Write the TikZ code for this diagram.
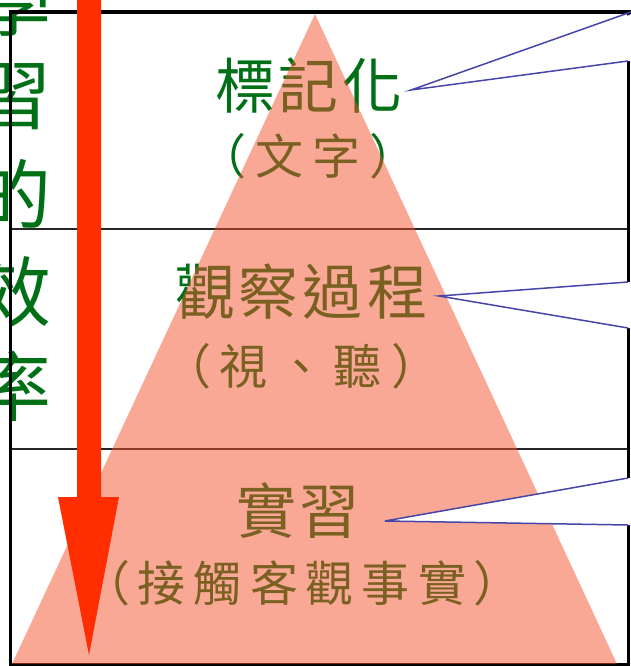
\documentclass[tikz,border=0pt]{standalone}
\usepackage{fontspec}
\newfontfamily\cjk{Noto Sans CJK TC}
\definecolor{lblgreen}{RGB}{0,112,22}
\definecolor{trired}{RGB}{245,81,45}
\definecolor{cblue}{RGB}{70,70,170}
\definecolor{arrowred}{RGB}{255,45,0}
\newcommand\tg{\kern4pt}
\newcommand\sg{\kern9pt}
\begin{document}
\begin{tikzpicture}[x=1pt,y=-1pt,
  side/.style={inner sep=0pt, text=lblgreen, font=\cjk\fontsize{76}{76}\selectfont},
  ttl/.style={inner sep=0pt, text=lblgreen, font=\cjk\fontsize{60}{60}\selectfont},
  sub/.style={inner sep=0pt, text=lblgreen, font=\cjk\fontsize{48}{48}\selectfont},
  frameline/.style={black, line width=3pt},
  toprule/.style={black, line width=3.6pt},
  divline/.style={black!85, line width=1.6pt},
  trifill/.style={fill=trired, fill opacity=0.5},
  calloutfill/.style={fill=white},
  pointer/.style={draw=cblue, line width=1.5pt},
  bigarrow/.style={fill=arrowred}]
\useasboundingbox (0,0) rectangle (631,666);
% vertical title
\foreach \c/\y/\n in {學/2/a,習/97/b,的/194/c,效/292/d,率/386/e}
  \node[side] (v\n) at (14,\y) {\c};
% table frame
\draw[divline] (10,229) -- (628,229);
\draw[divline] (10,449) -- (628,449);
\draw[frameline] (10,12) -- (10,664) -- (628,664) -- (628,12);
\draw[toprule] (9,12) -- (631,12);
% labels
\node[ttl] (t1) at (309,86) {標\tg 記\tg 化};
\node[sub] (s1) at (308,156) {（\sg 文\sg 字\sg ）};
\node[ttl] (t2) at (301,292) {觀\tg 察\tg 過\tg 程};
\node[sub] (s2) at (301,366) {（\sg 視\sg 、\sg 聽\sg ）};
\node[ttl] (t3) at (298,511) {實\tg 習};
\node[sub] (s3) at (302,583) {（\kern8pt 接\kern8pt 觸\kern8pt 客\kern8pt 觀\kern8pt 事\kern8pt 實\kern8pt ）};
% pyramid
\fill[trifill] (315,14) -- (617,664) -- (12,664) -- cycle;
% callouts
\coordinate (c1a) at (411,90);
\coordinate (c1t) at (631,12);
\coordinate (c1b) at (628,61);
\coordinate (c2a) at (439,296);
\coordinate (c2t) at (628,282);
\coordinate (c2b) at (628,328);
\coordinate (c3a) at (385,521);
\coordinate (c3t) at (628,478);
\coordinate (c3b) at (628,525);
\fill[calloutfill] (c1a) -- (632,14) -- (632,61) -- (c1b) -- cycle;
\fill[calloutfill] (c2a) -- (c2t) -- (632,282) -- (632,328) -- (c2b) -- cycle;
\fill[calloutfill] (c3a) -- (c3t) -- (632,478) -- (632,525) -- (c3b) -- cycle;
\draw[pointer] (c1t) -- (c1a) -- (c1b);
\draw[pointer] (c2t) -- (c2a) -- (c2b);
\draw[pointer] (c3t) -- (c3a) -- (c3b);
% red arrow
\fill[bigarrow] (77,-2) -- (101,-2) -- (101,497) -- (119,497) -- (89,655) -- (58,497) -- (77,497) -- cycle;
\end{tikzpicture}
\end{document}
